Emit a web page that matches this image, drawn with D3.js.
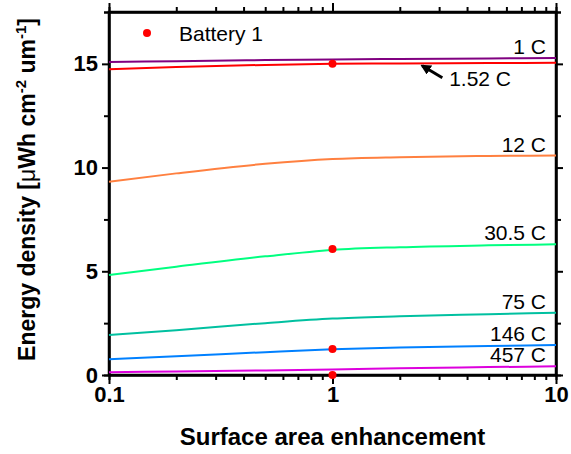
<!DOCTYPE html>
<html>
<head>
<meta charset="utf-8">
<script src="https://cdn.jsdelivr.net/npm/d3@7"></script>
<style>
  body { margin: 0; background: #fff; }
  text { font-family: Arial, "Liberation Sans", sans-serif; }
  .axis path, .axis line { stroke: #000; stroke-width: 2; }
  .axis text { font-size: 22px; font-weight: bold; fill: #000; }
</style>
</head>
<body>
<script>
// surface area enhancement values where the curves were read
var xs = [0.1, 0.2, 0.5, 1, 2, 5, 10];

var rates = ["1 C", "1.52 C", "12 C", "30.5 C", "75 C", "146 C", "457 C"];
var c1   = [15.09, 15.13, 15.18, 15.21, 15.24, 15.26, 15.28];
var c152 = [14.74, 14.85, 14.95, 15.0, 15.02, 15.04, 15.05];
var c12  = [9.32, 9.72, 10.18, 10.41, 10.5, 10.56, 10.58];
var c305 = [4.82, 5.22, 5.72, 6.03, 6.16, 6.25, 6.3];
var c75  = [1.93, 2.16, 2.5, 2.72, 2.83, 2.93, 3.0];
var c146 = [0.76, 0.9, 1.1, 1.24, 1.33, 1.4, 1.45];
var c457 = [0.13, 0.17, 0.22, 0.27, 0.32, 0.38, 0.42];
var series = [c1, c152, c12, c305, c75, c146, c457];
var colors = ["#800080", "#ff0000", "#ff8040", "#00ff80", "#00c0a0", "#0080ff", "#dd00dd"];

// Battery 1 points
var batX = [1, 1, 1, 1];
var batY = [15.0, 6.08, 1.25, 0.0];

var yTicks = [0, 5, 10, 15];
var xTicks = [0.1, 1, 10];

var width = 571, height = 454;
var margin = {left: 109, right: 15, top: 12, bottom: 79};
var w = width - margin.left - margin.right,
    h = height - margin.top - margin.bottom;

var svg = d3.select("body").append("svg")
    .attr("width", width)
    .attr("height", height);

var g = svg.append("g")
    .attr("transform", "translate(" + margin.left + "," + margin.top + ")");

var x = d3.scaleLog().domain([0.1, 10]).range([0, w]);
var y = d3.scaleLinear().domain([0, 17.5]).range([h, 0]);

var minorX = [];
[0.1, 1].forEach(function(d){
    for (var k = 2; k <= 9; k++) minorX.push(d * k);
});
var minorY = [2.5, 7.5, 12.5, 17.5];

// minor ticks
g.append("g").attr("class", "axis").attr("transform", "translate(0," + h + ")")
    .call(d3.axisBottom(x).tickValues(minorX).tickSize(5).tickFormat(""));
g.append("g").attr("class", "axis")
    .call(d3.axisTop(x).tickValues(minorX).tickSize(5).tickFormat(""));
g.append("g").attr("class", "axis")
    .call(d3.axisLeft(y).tickValues(minorY).tickSize(5).tickFormat(""));
g.append("g").attr("class", "axis").attr("transform", "translate(" + w + ",0)")
    .call(d3.axisRight(y).tickValues(minorY).tickSize(5).tickFormat(""));

// major ticks
g.append("g").attr("class", "axis").attr("transform", "translate(0," + h + ")")
    .call(d3.axisBottom(x).tickValues(xTicks).tickSize(9).tickSizeOuter(0)
        .tickPadding(2).tickFormat(function(d){ return d; }));
g.append("g").attr("class", "axis")
    .call(d3.axisTop(x).tickValues(xTicks).tickSize(9).tickSizeOuter(0).tickFormat(""));
g.append("g").attr("class", "axis")
    .call(d3.axisLeft(y).tickValues(yTicks).tickSize(7).tickSizeOuter(0).tickPadding(4));
g.append("g").attr("class", "axis").attr("transform", "translate(" + w + ",0)")
    .call(d3.axisRight(y).tickValues(yTicks).tickSize(7).tickSizeOuter(0).tickFormat(""));

// frame, full height
g.append("rect").attr("width", w).attr("height", h)
    .attr("fill", "none").attr("stroke", "#000").attr("stroke-width", 2.5);

var line = d3.line()
    .x(function(d, i){ return x(xs[i]); })
    .y(function(d){ return y(d); })
    .curve(d3.curveMonotoneX);

g.selectAll(".curve").data(series).enter().append("path")
    .attr("class", "curve")
    .attr("d", line)
    .attr("fill", "none")
    .attr("stroke", function(d, i){ return colors[i]; })
    .attr("stroke-width", 2);

// curve labels
g.selectAll(".lab").data(series).enter().append("text")
    .attr("class", "lab")
    .attr("x", function(d, i){ return i == 1 ? w - 45 : w - 10; })
    .attr("y", function(d, i){ return i == 1 ? y(d[d.length - 1]) + 23 : y(d[d.length - 1]) - 4; })
    .attr("text-anchor", "end")
    .style("font-size", "21px")
    .text(function(d, i){ return rates[i]; });

// arrow for 1.52 C
svg.append("defs").append("marker")
    .attr("id", "ah").attr("viewBox", "0 0 10 10")
    .attr("refX", 8).attr("refY", 5)
    .attr("markerWidth", 3.5).attr("markerHeight", 3.5)
    .attr("orient", "auto")
  .append("path").attr("d", "M0,0L10,5L0,10z").attr("fill", "#000");
g.append("line")
    .attr("x1", x(3.1)).attr("y1", y(15.05) + 15)
    .attr("x2", x(2.52)).attr("y2", y(15.05) + 3)
    .attr("stroke", "#000").attr("stroke-width", 3)
    .attr("marker-end", "url(#ah)");

// Battery 1 markers
g.selectAll(".bat").data(batY).enter().append("circle")
    .attr("class", "bat")
    .attr("cx", function(d, i){ return x(batX[i]); })
    .attr("cy", function(d){ return y(d); })
    .attr("r", 4)
    .attr("fill", "#ff0000");

// legend
g.append("circle").attr("cx", 38).attr("cy", 21).attr("r", 4).attr("fill", "#ff0000");
g.append("text").attr("x", 70).attr("y", 29).style("font-size", "21px").text("Battery 1");

// axis titles
svg.append("text")
    .attr("x", margin.left + w / 2).attr("y", 445)
    .attr("text-anchor", "middle")
    .style("font-size", "24px").style("font-weight", "bold")
    .text("Surface area enhancement");

var yt = svg.append("text")
    .attr("transform", "translate(35," + (margin.top + h / 2 - 4) + ") rotate(-90)")
    .attr("text-anchor", "middle")
    .style("font-size", "23px").style("font-weight", "bold");
yt.append("tspan").text("Energy density [");
yt.append("tspan").style("font-weight", "normal").text("μ");
yt.append("tspan").text("Wh cm");
yt.append("tspan").attr("dy", -9).style("font-size", "15px").text("-2");
yt.append("tspan").attr("dy", 9).text(" um");
yt.append("tspan").attr("dy", -9).style("font-size", "15px").text("-1");
yt.append("tspan").attr("dy", 9).text("]");
</script>
</body>
</html>
